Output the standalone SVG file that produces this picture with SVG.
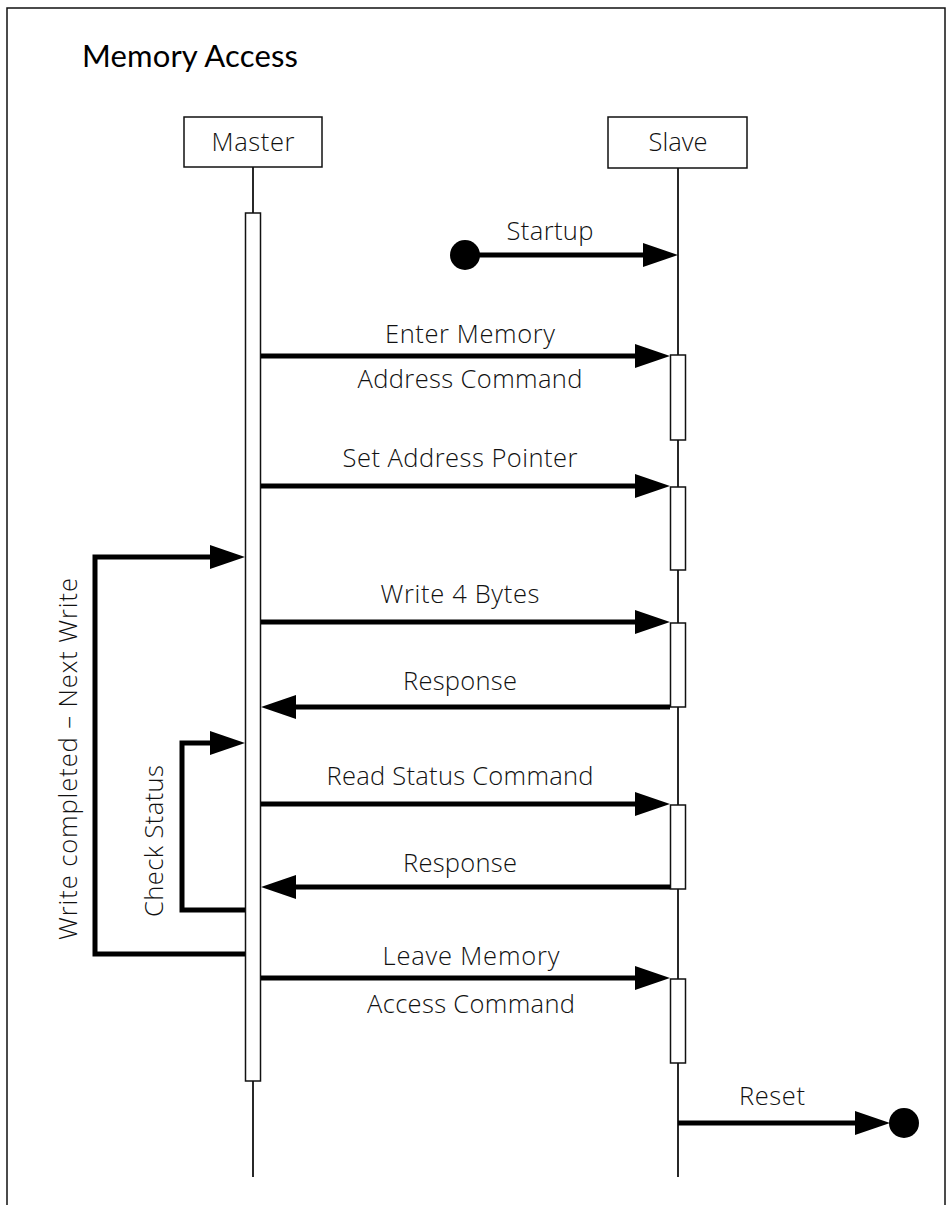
<svg xmlns="http://www.w3.org/2000/svg" width="950" height="1205" viewBox="0 0 950 1205">
<style>
.lbl{font-family:"Open Sans","Noto Sans",sans-serif;font-weight:300;font-size:25.5px;fill:#111;}
.ttl{font-family:"Lato","Open Sans",sans-serif;font-size:31px;fill:#000;}
.box{fill:#fff;stroke:#111;stroke-width:1.5;}
.life{stroke:#111;stroke-width:1.8;fill:none;}
.msg{stroke:#000;stroke-width:5;fill:none;marker-end:url(#ah);}
.dot{fill:#000;}
</style>
<defs>
<marker id="ah" markerUnits="userSpaceOnUse" viewBox="0 0 35 24" markerWidth="35" markerHeight="24" refX="15" refY="12" orient="auto">
<path d="M0,0 L35,12 L0,24 z" fill="#000"/>
</marker>
</defs>
<rect x="7" y="8" width="938" height="1220" fill="none" stroke="#111" stroke-width="1.5"/>
<text class="ttl" x="82" y="67" textLength="216">Memory Access</text>

<g id="master">
<line class="life" x1="253" y1="167" x2="253" y2="1177"/>
<rect class="box" x="184" y="117" width="138" height="50"/>
<text class="lbl" x="253" y="151" text-anchor="middle" textLength="83">Master</text>
<rect class="box" x="245.5" y="213" width="15" height="868"/>
</g>

<g id="slave">
<line class="life" x1="678" y1="168" x2="678" y2="1177"/>
<rect class="box" x="608" y="117" width="139" height="51"/>
<text class="lbl" x="678" y="151" text-anchor="middle" textLength="59">Slave</text>
<rect class="box" x="670.5" y="355" width="15" height="85"/>
<rect class="box" x="670.5" y="487" width="15" height="83"/>
<rect class="box" x="670.5" y="623" width="15" height="84"/>
<rect class="box" x="670.5" y="805" width="15" height="84"/>
<rect class="box" x="670.5" y="979" width="15" height="84"/>
</g>

<g id="start">
<circle class="dot" cx="465" cy="255" r="15"/>
</g>
<g id="end">
<circle class="dot" cx="904" cy="1123" r="15"/>
</g>

<g id="connectors">
<path class="msg" d="M465,255 H658"/>
<path class="msg" d="M261,356 H650"/>
<path class="msg" d="M261,486 H650"/>
<path class="msg" d="M261,622 H650"/>
<path class="msg" d="M670,707 H281"/>
<path class="msg" d="M261,804 H650"/>
<path class="msg" d="M670,887 H281"/>
<path class="msg" d="M261,978 H650"/>
<path class="msg" d="M678,1123 H870"/>
<path class="msg" d="M245,954 H95 V557 H225"/>
<path class="msg" d="M245,910 H182 V743 H225"/>
</g>

<g id="labels">
<text class="lbl" x="550" y="240" text-anchor="middle" textLength="87">Startup</text>
<text class="lbl" x="470" y="343" text-anchor="middle" textLength="170">Enter Memory</text>
<text class="lbl" x="470" y="388" text-anchor="middle" textLength="225">Address Command</text>
<text class="lbl" x="460" y="467" text-anchor="middle" textLength="235">Set Address Pointer</text>
<text class="lbl" x="460" y="603" text-anchor="middle" textLength="159">Write 4 Bytes</text>
<text class="lbl" x="460" y="690" text-anchor="middle" textLength="114">Response</text>
<text class="lbl" x="460" y="785" text-anchor="middle" textLength="267">Read Status Command</text>
<text class="lbl" x="460" y="872" text-anchor="middle" textLength="114">Response</text>
<text class="lbl" x="471" y="965" text-anchor="middle" textLength="177">Leave Memory</text>
<text class="lbl" x="471" y="1013" text-anchor="middle" textLength="208">Access Command</text>
<text class="lbl" x="772" y="1105" text-anchor="middle" textLength="66">Reset</text>
<text class="lbl" transform="translate(77,759) rotate(-90)" text-anchor="middle" textLength="362">Write completed – Next Write</text>
<text class="lbl" transform="translate(163,841) rotate(-90)" text-anchor="middle" textLength="152">Check Status</text>
</g>
</svg>
